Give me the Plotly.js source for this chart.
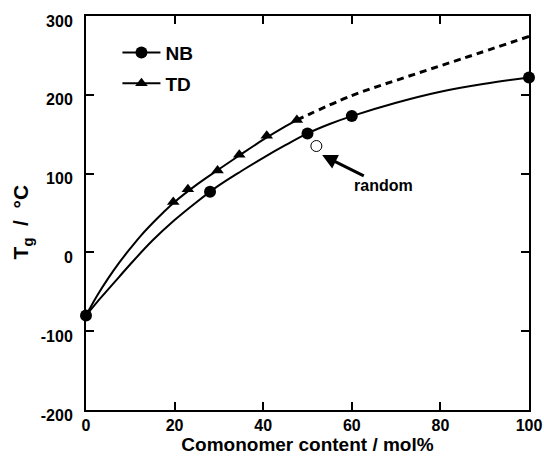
<!DOCTYPE html>
<html>
<head>
<meta charset="utf-8">
<script src="https://cdn.plot.ly/plotly-3.0.1.min.js"></script>
<style>html,body{margin:0;padding:0;background:#fff;}#chart{width:544px;height:463px;}</style>
</head>
<body>
<div id="chart"></div>
<script>
// measured points
const nbX = [0, 28, 50, 60, 100];
const nbY = [-80, 77, 151, 173, 222];
const tdX = [19.7, 23, 29.7, 34.6, 40.8, 47.6];
const tdY = [64, 80, 104, 124, 148, 168];
const randomX = [52];
const randomY = [135];
// fitted curves
const nbFitX = [0, 2.5, 5, 7.5, 10, 15, 20, 25, 30, 35, 40, 45, 50, 55, 60, 70, 80, 90, 100];
const nbFitY = [-80, -63, -47, -31, -15, 15, 41, 64, 85, 103, 120, 136, 151, 163, 173, 190, 204, 214, 222];
const tdFitX = [0, 2.5, 5, 7.5, 10, 12.5, 15, 17.5, 20, 25, 30, 35, 40, 45, 47.6];
const tdFitY = [-80, -55, -33, -13, 5, 22, 37, 51, 64, 86, 105.5, 124.5, 143, 160, 168];
const tdExtX = [47.6, 60, 72, 85, 100];
const tdExtY = [168, 199, 222, 246, 274];
const xTicks = [0, 20, 40, 60, 80, 100];
const yTicks = [-200, -100, 0, 100, 200, 300];
const seriesNames = ['NB', 'TD'];

const FONT = 'Liberation Sans, Arial, Helvetica, sans-serif';
const black = '#000';

const traces = [
  {x: nbFitX, y: nbFitY, mode: 'lines', line: {color: black, width: 2, shape: 'spline'}, showlegend: false, hoverinfo: 'skip'},
  {x: tdFitX, y: tdFitY, mode: 'lines', line: {color: black, width: 2, shape: 'spline'}, showlegend: false, hoverinfo: 'skip'},
  {x: tdExtX, y: tdExtY, mode: 'lines', line: {color: black, width: 3, dash: '7px,5px', shape: 'spline'}, showlegend: false, hoverinfo: 'skip'},
  {x: tdX, y: tdY, mode: 'markers', marker: {symbol: 'triangle-up', size: 11, color: black}, showlegend: false, cliponaxis: false},
  {x: nbX, y: nbY, mode: 'markers', marker: {symbol: 'circle', size: 12, color: black}, showlegend: false, cliponaxis: false},
  {x: randomX, y: randomY, mode: 'markers', marker: {symbol: 'circle-open', size: 11, color: black, line: {width: 1, color: black}}, showlegend: false},
  // legend entries
  {x: [null], y: [null], name: seriesNames[0], legendgroup: 'a', mode: 'lines+markers', line: {color: black, width: 2}, marker: {symbol: 'circle', size: 12, color: black}},
  {x: [null], y: [null], name: seriesNames[1], legendgroup: 'b', mode: 'lines+markers', line: {color: black, width: 2}, marker: {symbol: 'triangle-up', size: 11, color: black}}
];

const axisCommon = {
  showline: true, linecolor: black, linewidth: 2, mirror: 'ticks',
  ticks: 'inside', ticklen: 8, tickwidth: 2, tickcolor: black,
  showgrid: false, zeroline: false,
  tickfont: {family: FONT, size: 16, color: black, weight: 'bold'}
};

const layout = {
  width: 544, height: 463,
  margin: {l: 86, r: 15, t: 16, b: 53},
  paper_bgcolor: '#fff', plot_bgcolor: '#fff',
  font: {family: FONT, color: black},
  showlegend: true,
  legend: {x: 0.071, y: 0.955, xanchor: 'left', yanchor: 'top', bgcolor: 'rgba(0,0,0,0)',
           traceorder: 'grouped', tracegroupgap: 3, itemwidth: 38,
           font: {family: FONT, size: 19, color: black, weight: 'bold'}},
  xaxis: Object.assign({}, axisCommon, {
    range: [0, 100], tickvals: xTicks, ticktext: xTicks.map(String),
    title: {text: 'Comonomer content / mol%', font: {family: FONT, size: 19, color: black, weight: 'bold'}, standoff: 4}
  }),
  yaxis: Object.assign({}, axisCommon, {
    range: [-200, 300], tickvals: yTicks, ticktext: yTicks.map(String),
    ticklabelstandoff: 8, ticklabelshift: 5
  }),
  annotations: [
    {xref: 'paper', yref: 'paper', x: -0.145, y: 0.478, xanchor: 'center', yanchor: 'middle',
     text: 'T<sub>g</sub>\u00A0\u00A0/\u00A0\u00A0°C', textangle: -90, showarrow: false,
     font: {family: FONT, size: 21, color: black, weight: 'bold'}},
    {x: 53.3, y: 123.5, ax: 61.7, ay: 30.8, text: 'random', showarrow: true,
     arrowhead: 2, arrowsize: 1, arrowwidth: 3, arrowcolor: black,
     font: {family: FONT, size: 16, color: black, weight: 'bold'}}
  ]
};

Plotly.newPlot('chart', traces, layout, {displayModeBar: false, staticPlot: true});
</script>
</body>
</html>
